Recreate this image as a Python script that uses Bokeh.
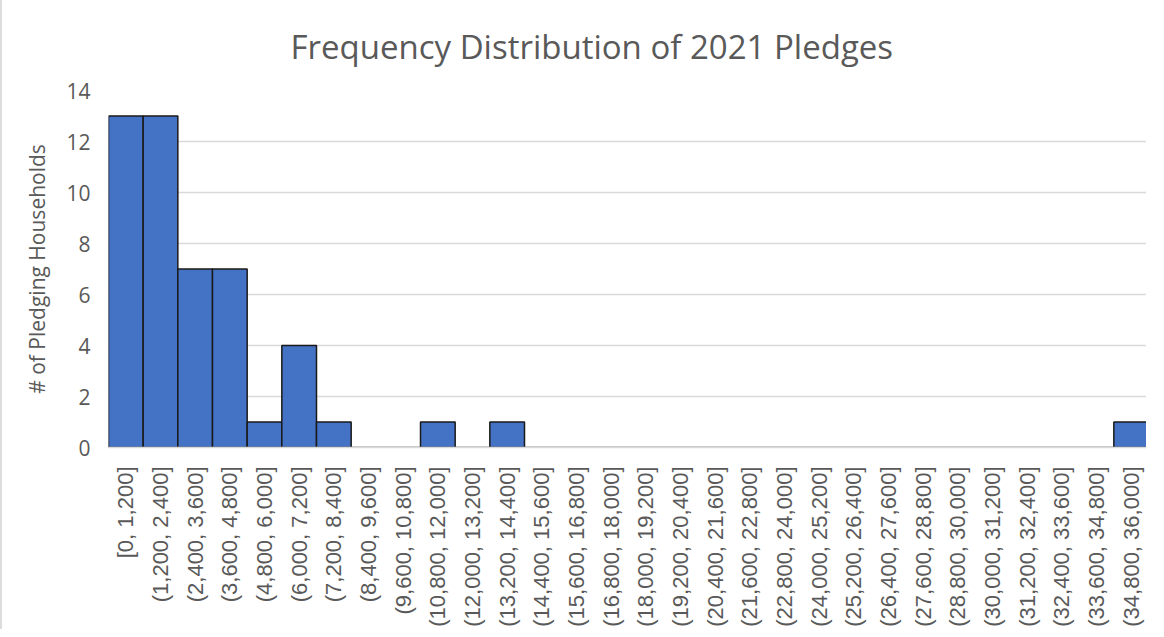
import math
from bokeh.plotting import figure
from bokeh.models import ColumnDataSource, FactorRange, Range1d, FixedTicker
from bokeh.embed import file_html
from bokeh.resources import INLINE

bins = [
    "[0, 1,200]", "(1,200, 2,400]", "(2,400, 3,600]", "(3,600, 4,800]",
    "(4,800, 6,000]", "(6,000, 7,200]", "(7,200, 8,400]", "(8,400, 9,600]",
    "(9,600, 10,800]", "(10,800, 12,000]", "(12,000, 13,200]", "(13,200, 14,400]",
    "(14,400, 15,600]", "(15,600, 16,800]", "(16,800, 18,000]", "(18,000, 19,200]",
    "(19,200, 20,400]", "(20,400, 21,600]", "(21,600, 22,800]", "(22,800, 24,000]",
    "(24,000, 25,200]", "(25,200, 26,400]", "(26,400, 27,600]", "(27,600, 28,800]",
    "(28,800, 30,000]", "(30,000, 31,200]", "(31,200, 32,400]", "(32,400, 33,600]",
    "(33,600, 34,800]", "(34,800, 36,000]",
]
counts = [13, 13, 7, 7, 1, 4, 1, 0, 0, 1, 0, 1, 0, 0, 0, 0, 0, 0, 0, 0,
          0, 0, 0, 0, 0, 0, 0, 0, 0, 1]
y_ticks = [0, 2, 4, 6, 8, 10, 12, 14]

title_text = "Frequency Distribution of 2021 Pledges"
y_label = "# of Pledging Households"

src = ColumnDataSource(dict(bin=bins, count=counts))

p = figure(
    width=1146, height=629,
    x_range=FactorRange(*bins, range_padding=0),
    y_range=Range1d(0, 14),
    output_backend="svg", toolbar_location=None,
    min_border_left=106, min_border_right=0,
    min_border_top=90, min_border_bottom=150,
    title=title_text,
)
p.vbar(x="bin", top="count", width=1.0, source=src,
       fill_color="#4472C4", line_color="#1a1a1a", line_width=1.5)

p.title.align = "left"
p.title.offset = 182
p.title.text_font = "Open Sans"
p.title.text_font_size = "33px"
p.title.text_font_style = "normal"
p.title.text_color = "#595959"
p.title.standoff = 43

p.outline_line_color = None
p.background_fill_color = "white"
p.border_fill_color = "white"

p.xgrid.grid_line_color = None
p.ygrid.grid_line_color = "#d9d9d9"
p.ygrid.grid_line_width = 1.5

p.yaxis.ticker = FixedTicker(ticks=y_ticks)
p.yaxis.axis_line_color = None
p.yaxis.major_tick_line_color = None
p.yaxis.minor_tick_line_color = None
p.yaxis.major_label_text_font = "Open Sans"
p.yaxis.major_label_text_font_size = "21px"
p.yaxis.major_label_text_color = "#595959"
p.yaxis.major_label_standoff = 12
p.yaxis.axis_label = y_label
p.yaxis.axis_label_text_font = "Open Sans"
p.yaxis.axis_label_text_font_size = "21px"
p.yaxis.axis_label_text_font_style = "normal"
p.yaxis.axis_label_text_color = "#595959"
p.yaxis.axis_label_standoff = 12

p.xaxis.axis_line_color = "#d9d9d9"
p.xaxis.axis_line_width = 1.5
p.xaxis.major_tick_line_color = None
p.xaxis.minor_tick_line_color = None
p.xaxis.major_label_orientation = math.pi / 2
p.xaxis.major_label_text_font = "Liberation Sans"
p.xaxis.major_label_text_font_size = "22px"
p.xaxis.major_label_text_color = "#595959"
p.xaxis.major_label_standoff = 13

p.styles = {"border-left": "2px solid #dcdcdc"}

open("out.html", "w").write(file_html(p, INLINE))
